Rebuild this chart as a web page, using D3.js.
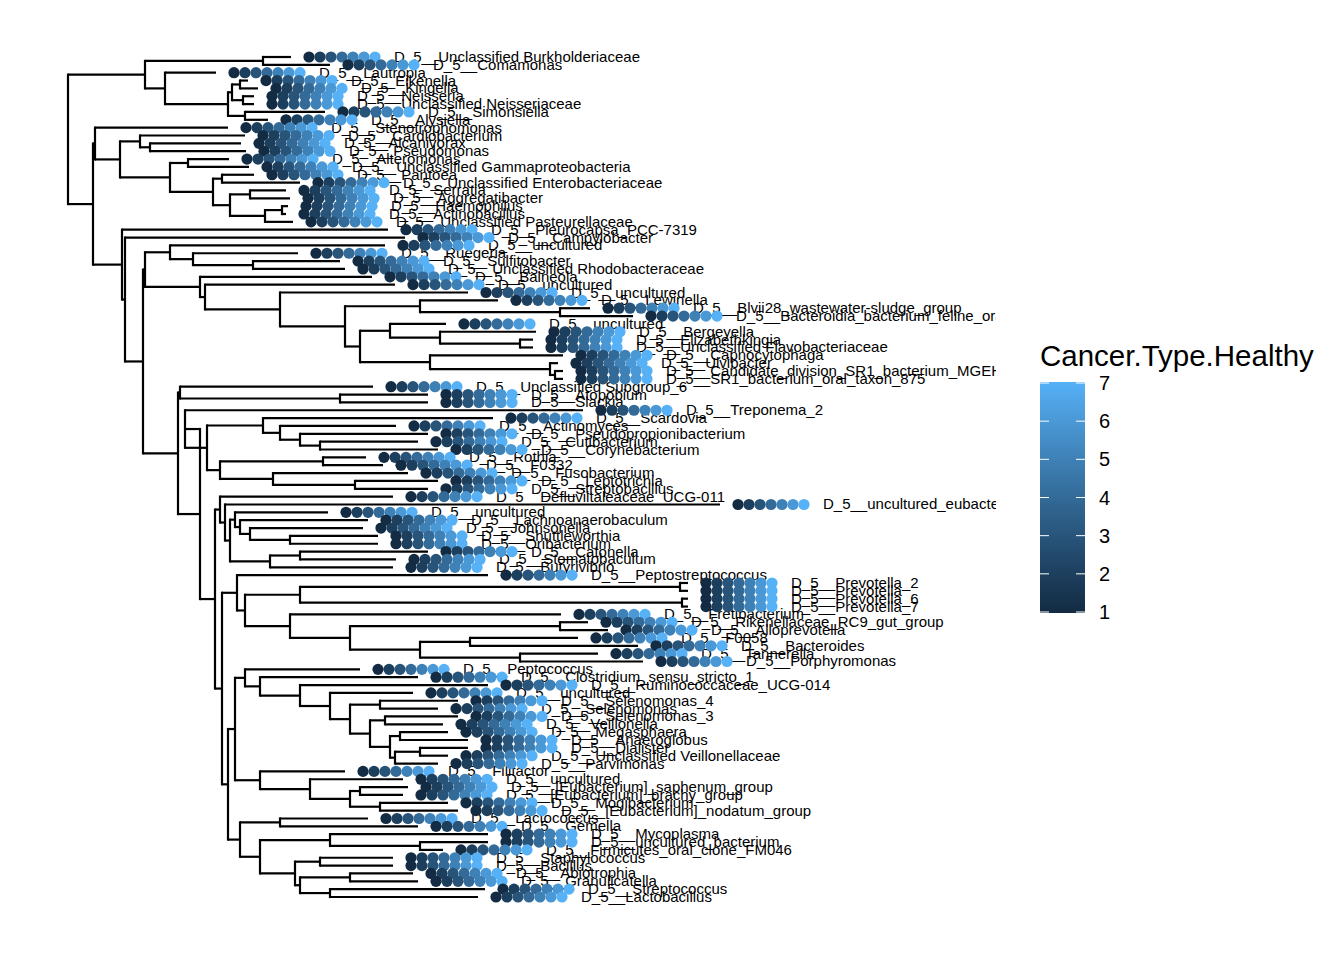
<!DOCTYPE html>
<html><head><meta charset="utf-8">
<script src="https://cdn.jsdelivr.net/npm/d3@7"></script>
<style>body{margin:0;background:#fff}text{font-family:"Liberation Sans",Arial,sans-serif}</style>
</head><body><svg></svg>
<script>
// Tip labels, in tree order (top to bottom)
const tipNames = ["Unclassified Burkholderiaceae","Comamonas","Lautropia","Eikenella","Kingella","Neisseria","Unclassified Neisseriaceae","Simonsiella","Alysiella","Stenotrophomonas","Cardiobacterium","Alcanivorax","Pseudomonas","Alteromonas","Unclassified Gammaproteobacteria","Pantoea","Unclassified Enterobacteriaceae","Serratia","Aggregatibacter","Haemophilus","Actinobacillus","Unclassified Pasteurellaceae","Pleurocapsa_PCC-7319","Campylobacter","uncultured","Ruegeria","Sulfitobacter","Unclassified Rhodobacteraceae","Balneola","uncultured","uncultured","Lewinella","Blvii28_wastewater-sludge_group","Bacteroidia_bacterium_feline_oral_taxon","uncultured","Bergeyella","Elizabethkingia","Unclassified Flavobacteriaceae","Capnocytophaga","Ulvibacter","Candidate_division_SR1_bacterium_MGEHA","SR1_bacterium_oral_taxon_875","Unclassified Subgroup_6","Atopobium","Slackia","Treponema_2","Scardovia","Actinomyces","Pseudopropionibacterium","Cutibacterium","Corynebacterium","Rothia","F0332","Fusobacterium","Leptotrichia","Streptobacillus","Defluviitaleaceae_UCG-011","uncultured_eubacterium","uncultured","Lachnoanaerobaculum","Johnsonella","Shuttleworthia","Oribacterium","Catonella","Stomatobaculum","Butyrivibrio","Peptostreptococcus","Prevotella_2","Prevotella","Prevotella_6","Prevotella_7","Fretibacterium","Rikenellaceae_RC9_gut_group","Alloprevotella","F0058","Bacteroides","Tannerella","Porphyromonas","Peptococcus","Clostridium_sensu_stricto_1","Ruminococcaceae_UCG-014","uncultured","Selenomonas_4","Selenomonas","Selenomonas_3","Veillonella","Megasphaera","Anaeroglobus","Dialister","Unclassified Veillonellaceae","Parvimonas","Filifactor","uncultured","[Eubacterium]_saphenum_group","[Eubacterium]_brachy_group","Mogibacterium","[Eubacterium]_nodatum_group","Lactococcus","Gemella","Mycoplasma","uncultured_bacterium","Firmicutes_oral_clone_FM046","Staphylococcus","Bacillus","Abiotrophia","Granulicatella","Streptococcus","Lactobacillus"];

// Cancer.Type.Healthy levels shown at every tip
const cancerTypes = [1, 2, 3, 4, 5, 6, 7];
const legendTicks = [1, 2, 3, 4, 5, 6, 7];

// Tree in Newick form: leaf = tip index, value after ":" = depth from origin
const cladeA = "((1:291,2:330):263,(3:216,(((4:248,5:258):240,(6:254,7:254):243):232,(8:325,9:268):245):228):165):145";
const cladeB = "(10:228,((11:245,(12:241,13:246):150):140,((14:229,15:249):188,((16:254,17:300):222,((18:286,19:290):250,((20:288,21:286):282,22:293):265):230):213):170):120):95";
const cladeBact = "(29:372,(30:395,(31:468,((32:498,(33:590,34:633):560):420,((35:446,(36:536,(37:533,38:533):520):440):390,(39:563,(40:558,(41:563,42:563):555):550):430):360):345):280):205):200";
const cladeR = "((25:385,(26:298,(27:340,28:345):253):193):170," + cladeBact + "):145";
const cladeS = "(43:373,(44:428,45:428):340):180";
const cladeAct = "(47:493,(48:396,(49:428,(50:418,51:438):320):300):280):263";
const cladeFuso = "((52:366,53:383):323,(54:408,(55:438,56:428):355):273):220";
const cladeT = "(46:583,(" + cladeAct + "," + cladeFuso + "):207):185";
const cladeClos = "(57:393,(58:720,((59:328,(60:368,(61:363,(62:378,63:378):290):250):240):235,((64:428,65:396):300,66:393):270):230):225):220";
const cladeBac2 = "(67:488,(((68:688,69:688):680,(70:688,71:688):682):300,(72:561,((73:588,74:608):560,((75:578,76:638):470,(77:598,78:643):520):420):350):290):245):237";
const cladeNeg = "(79:360,(80:418,(81:488,(82:413,((83:458,84:438):380,((85:458,86:443):385,((87:448,88:468):400,((89:468,90:448):420,91:438):395):390):370):350):330):300):260):245";
const cladeClos2 = "(92:345,(93:403,((94:408,95:403):360,(96:448,97:458):380):350):310):260";
const cladeBac3 = "((98:368,99:418):280,((100:488,(101:488,102:443):420):330,((103:393,104:393):320,((105:413,106:418):350,(107:485,108:478):330):300):295):260):240";
const cladeFirm = "((" + cladeNeg + "," + cladeClos2 + "):235," + cladeBac3 + "):228";
const cladeU = "(" + cladeClos + ",(" + cladeBac2 + "," + cladeFirm + "):222):215";
const cladeC = "(23:388,(24:405,(" + cladeR + ",(" + cladeS + ",(" + cladeT + "," + cladeU + "):200):178):143):125):122";
const newick = "(" + cladeA + ",(" + cladeB + "," + cladeC + "):93):68;";

// Small Newick parser
function parseNewick(s) {
    let i = 0;
    function node() {
        const n = {};
        if (s[i] === "(") {
            i++;
            n.children = [node()];
            while (s[i] === ",") { i++; n.children.push(node()); }
            i++; // ")"
        }
        let name = "";
        while (i < s.length && !",:();".includes(s[i])) name += s[i++];
        if (name) n.tip = +name;
        if (s[i] === ":") {
            i++;
            let v = "";
            while (i < s.length && !",();".includes(s[i])) v += s[i++];
            n.depth = +v;
        }
        return n;
    }
    return node();
}

const width = 1344, height = 960;
const svg = d3.select("svg").attr("width", width).attr("height", height);

const root = d3.hierarchy(parseNewick(newick));
const leaves = root.leaves();

const x = d3.scaleLinear().domain([0, 1000]).range([0, 1000]);
const y = d3.scaleLinear().domain([0, leaves.length - 1]).range([57, 897]);
const color = d3.scaleLinear().domain([1, 7]).range(["#132B43", "#56B1F7"]).interpolate(d3.interpolateLab);

leaves.forEach((d, i) => d.yv = i);
root.eachAfter(d => {
    if (d.children) d.yv = (d.children[0].yv + d.children[d.children.length - 1].yv) / 2;
});

svg.append("clipPath").attr("id", "panel")
    .append("rect").attr("x", 0).attr("y", 0).attr("width", 996).attr("height", height);

const g = svg.append("g").attr("clip-path", "url(#panel)");

// Branches
const internal = root.descendants().filter(d => d.children);
g.selectAll("line.v").data(internal).join("line")
    .attr("x1", d => x(d.data.depth)).attr("x2", d => x(d.data.depth))
    .attr("y1", d => y(d.children[0].yv)).attr("y2", d => y(d.children[d.children.length - 1].yv))
    .attr("stroke", "#000").attr("stroke-width", 2.2).attr("stroke-linecap", "square");
g.selectAll("line.h").data(root.descendants().filter(d => d.parent)).join("line")
    .attr("x1", d => x(d.parent.data.depth)).attr("x2", d => x(d.data.depth))
    .attr("y1", d => y(d.yv)).attr("y2", d => y(d.yv))
    .attr("stroke", "#000").attr("stroke-width", 2.2);

// Tip labels
g.selectAll("text.tip").data(leaves).join("text")
    .attr("x", d => x(d.data.depth) + 103)
    .attr("y", d => y(d.yv) + 5)
    .style("font-size", "15px")
    .text(d => "D_5__" + tipNames[d.data.tip - 1]);

// Tip points, one per cancer type
const pts = [];
leaves.forEach(d => cancerTypes.forEach((c, k) => pts.push({ leaf: d, c, k })));
g.selectAll("circle").data(pts).join("circle")
    .attr("cx", p => x(p.leaf.data.depth) + 18 + p.k * 11)
    .attr("cy", p => y(p.leaf.yv))
    .attr("r", 5.6)
    .attr("fill", p => color(p.c));

// Legend colourbar
const lg = svg.append("g");
lg.append("text").attr("x", 1040).attr("y", 366).style("font-size", "29.5px").text("Cancer.Type.Healthy");
const ly = d3.scaleLinear().domain([1, 7]).range([612, 383]);
const grad = svg.append("defs").append("linearGradient").attr("id", "cb")
    .attr("x1", 0).attr("y1", 1).attr("x2", 0).attr("y2", 0);
d3.range(0, 1.01, 0.1).forEach(t => grad.append("stop").attr("offset", t).attr("stop-color", color(1 + 6 * t)));
lg.append("rect").attr("x", 1040).attr("y", ly(7) - 1).attr("width", 45).attr("height", ly(1) - ly(7) + 2).attr("fill", "url(#cb)");
legendTicks.forEach(t => {
    lg.append("line").attr("x1", 1040).attr("x2", 1049).attr("y1", ly(t)).attr("y2", ly(t)).attr("stroke", "#fff").attr("stroke-width", 1);
    lg.append("line").attr("x1", 1076).attr("x2", 1085).attr("y1", ly(t)).attr("y2", ly(t)).attr("stroke", "#fff").attr("stroke-width", 1);
    lg.append("text").attr("x", 1099).attr("y", ly(t) + 7).style("font-size", "20px").text(t);
});
</script></body></html>
